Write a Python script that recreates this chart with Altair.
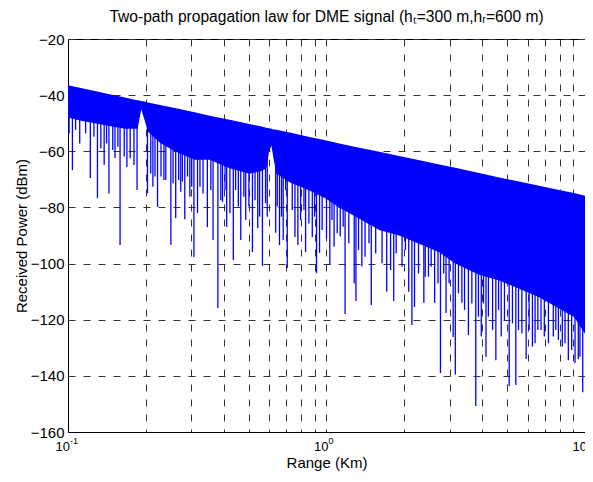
import altair as alt
import numpy as np
import pandas as pd

# Solid part of the received-power trace: top envelope and lower edge of the fully filled band
BAND_KM = [0.100, 0.111, 0.127, 0.145, 0.166, 0.181, 0.186, 0.192, 0.198, 0.204, 0.227,
           0.259, 0.309, 0.353, 0.422, 0.504, 0.561, 0.585, 0.600, 0.612, 0.625, 0.640,
           0.720, 0.860, 1.00, 1.12, 1.34, 1.60, 1.91, 2.29, 2.73, 3.15, 3.89, 4.66,
           5.56, 6.64, 7.94, 9.07, 10.0]
BAND_TOP = [-36.5, -37.4, -38.5, -39.7, -40.8, -41.6, -41.8, -42.1, -42.3, -42.6, -43.5,
            -44.6, -46.1, -47.3, -48.8, -50.3, -51.2, -51.6, -51.8, -52.0, -52.2, -52.3,
            -53.3, -54.9, -56.2, -57.2, -58.7, -60.2, -61.7, -63.2, -64.7, -65.9, -67.7,
            -69.3, -70.8, -72.3, -73.8, -74.9, -75.8]
BAND_FLOOR = [-48, -49, -50, -51, -52, -52, -52, -45, -49, -53, -57,
              -60, -63, -63, -66, -68, -67, -66, -60, -58, -63, -68,
              -71, -74, -77, -80, -84, -88, -90, -93, -96, -100, -104, -106,
              -109, -112, -116, -119, -125]

# Deep nulls of the trace: range (km) and lowest power (dBm)
DEEP_KM = [0.104, 0.122, 0.130, 0.138, 0.144, 0.152, 0.159, 0.169, 0.185, 0.203, 0.213,
           0.222, 0.235, 0.250, 0.261, 0.273, 0.283, 0.296, 0.307,
           0.317, 0.333, 0.346, 0.364, 0.380, 0.396, 0.411, 0.423, 0.436, 0.466, 0.487,
           0.517, 0.542, 0.565, 0.590, 0.636, 0.658, 0.680, 0.705, 0.755, 0.775, 0.830,
           0.881, 0.915, 0.940, 1.00,
           1.03, 1.07, 1.13, 1.18, 1.28, 1.30, 1.37, 1.49, 1.71, 1.82, 2.08, 2.14, 2.19,
           2.38, 2.48, 2.62, 2.76, 2.90, 3.09, 3.15,
           3.34, 3.54, 3.78, 3.97, 4.14, 4.39, 4.52, 4.74, 5.09, 5.40, 5.70, 5.92, 6.26,
           6.57, 6.96, 7.54, 7.89, 8.17, 8.62, 9.15, 9.42, 9.80]
DEEP_LOW = [-66.7, -69.5, -76.7, -64.9, -75.0, -62.4, -93.4, -65.6, -73.8, -75.0, -72.6,
            -79.8, -70.2, -93.4, -83.8, -74.4, -84.2, -76.2, -97.7,
            -82.0, -75.0, -87.0, -91.6, -115.8, -78.0, -87.0, -82.1, -98.7, -91.6, -84.5,
            -95.9, -87.4, -100.9, -83.3, -89.0, -93.4, -91.6, -101.6, -90.5, -93.4, -95.9,
            -90.5, -103.4, -96.2, -91.0,
            -100.5, -94.0, -90.4, -118.0, -107.0, -113.3, -101.0, -114.8, -110.0, -113.3,
            -110.0, -121.9, -115.5, -114.0, -104.7, -114.0, -139.0, -117.6, -126.2, -139.5,
            -114.0, -125.5, -150.7, -126.0, -133.3, -123.7, -134.4, -126.0, -143.6, -143.3,
            -124.8, -134.0, -129.6, -123.7, -126.0, -126.0, -127.2, -129.6, -134.4, -135.4,
            -134.0, -145.8]

# Shallower nulls forming the ragged lower edge of the band
SHALLOW_KM = [0.101, 0.107, 0.111, 0.117, 0.126, 0.134, 0.141, 0.149, 0.156, 0.165, 0.174,
              0.180, 0.209, 0.217, 0.229, 0.239, 0.255, 0.268, 0.277, 0.290, 0.301,
              0.324, 0.357, 0.390, 0.405, 0.445, 0.456, 0.479, 0.501, 0.529, 0.551, 0.581,
              0.645, 0.670, 0.695, 0.737, 0.794, 0.818, 0.855, 0.899, 0.962,
              1.05, 1.10, 1.16, 1.22, 1.33, 1.41, 1.46, 1.55, 1.64, 1.77, 1.86, 1.96, 2.02,
              2.27, 2.41, 2.54, 2.70, 2.84, 2.98,
              3.24, 3.42, 3.65, 3.87, 4.05, 4.23, 4.63, 4.88, 5.24, 5.53, 6.08, 6.41, 6.76,
              7.22, 7.71, 8.37, 8.88, 9.56]
SHALLOW_LOW = [-53.6, -52.4, -57.2, -53.6, -54.8, -58.9, -57.2, -59.5, -58.4, -61.9, -62.5,
               -64.9, -67.9, -69.0, -69.0, -70.2, -71.4, -70.2, -70.8, -69.0, -72.6,
               -72.6, -73.8, -77.4, -73.8, -73.8, -79.7, -76.2, -79.7, -77.4, -83.3, -78.5,
               -79.7, -83.3, -73.8, -80.9, -84.5, -80.9, -85.7, -83.3, -88.0,
               -84.5, -89.2, -86.9, -92.8, -95.2, -97.6, -92.8, -96.4, -99.9, -102.3, -96.4,
               -101.1, -95.2, -103.5, -104.7, -101.1, -107.0, -103.5, -107.0,
               -110.6, -116.5, -114.2, -118.9, -114.2, -118.9, -116.5, -120.1, -121.3,
               -123.7, -123.7, -128.4, -123.7, -128.4, -123.7, -128.4, -130.8, -133.2]

# Level inside the filled band where each null starts, by range
NULL_REGION_KM = [0.1, 0.2, 0.3, 0.6, 1.0, 2.0, 4.0]
NULL_REGION_FROM = [-45, -50, -55, -60, -68, -75, -85]

GRID_X = [0.1, 0.2, 0.3, 0.4, 0.5, 0.6, 0.7, 0.8, 0.9,
          1, 2, 3, 4, 5, 6, 7, 8, 9, 10]
GRID_Y = [-160, -140, -120, -100, -80, -60, -40, -20]
DECADE_KM = [0.1, 1, 10]
DECADE_BASE = ["10", "10", "10"]
DECADE_EXP = ["-1", "0", "1"]

band = pd.DataFrame({"km": BAND_KM, "top": BAND_TOP, "floor": BAND_FLOOR})
spikes = pd.DataFrame({"km": DEEP_KM + SHALLOW_KM, "low": DEEP_LOW + SHALLOW_LOW})
region_idx = np.searchsorted(NULL_REGION_KM, spikes["km"].to_numpy(), side="right") - 1
spikes["from"] = [NULL_REGION_FROM[i] for i in region_idx]
decades = pd.DataFrame({"km": DECADE_KM, "base": DECADE_BASE, "exp": DECADE_EXP})

BLUE = "#0000ff"
FONT = "Liberation Sans"

xscale = alt.Scale(type="log", domain=[0.1, 10], nice=False)
yscale = alt.Scale(domain=[-160, -20], nice=False, zero=False)

xaxis = alt.Axis(
    values=GRID_X, labels=False,
    grid=True, gridDash=[7, 8], gridColor="#333333", gridWidth=1,
    ticks=False, domainColor="black", titleColor="black",
    titleFontSize=15, titleFontWeight="normal", titlePadding=23,
    title="Range (Km)",
)
yaxis = alt.Axis(
    values=GRID_Y,
    grid=True, gridDash=[7, 8], gridColor="#333333", gridWidth=1,
    ticks=False, domainColor="black", labelColor="black", titleColor="black",
    labelFontSize=15, labelPadding=4, labelOverlap=False,
    titleFontSize=15, titleFontWeight="normal", titlePadding=1,
    title="Received Power (dBm)",
)

area = alt.Chart(band).mark_area(color=BLUE, opacity=1).encode(
    x=alt.X("km:Q", scale=xscale, axis=xaxis),
    y=alt.Y("top:Q", scale=yscale, axis=yaxis),
    y2="floor:Q",
)

rules = alt.Chart(spikes).mark_rule(color=BLUE, strokeWidth=1.3).encode(
    x=alt.X("km:Q", scale=xscale),
    y=alt.Y("from:Q", scale=yscale),
    y2="low:Q",
)

bases = alt.Chart(decades).mark_text(
    align="right", baseline="top", dx=2, dy=9, fontSize=13, font=FONT, color="black"
).encode(
    x=alt.X("km:Q", scale=xscale),
    y=alt.datum(-160, scale=yscale),
    text="base:N",
)

exponents = alt.Chart(decades).mark_text(
    align="left", baseline="top", dx=2, dy=5, fontSize=9, font=FONT, color="black"
).encode(
    x=alt.X("km:Q", scale=xscale),
    y=alt.datum(-160, scale=yscale),
    text="exp:N",
)

chart = alt.layer(area, rules, bases, exponents).properties(
    width=517,
    height=393,
    autosize=alt.AutoSizeParams(type="none"),
    padding={"left": 60, "top": 31, "right": 0, "bottom": 42},
    title=alt.TitleParams(
        text="Two-path propagation law for DME signal (hₜ=300 m,hᵣ=600 m)",
        fontSize=15.6, fontWeight="normal", font=FONT, color="black",
        anchor="middle", frame="group", offset=6,
    ),
).configure(font=FONT).configure_view(stroke="black", strokeWidth=1)

chart.save("out.html", embed_options={"renderer": "svg", "actions": False})
